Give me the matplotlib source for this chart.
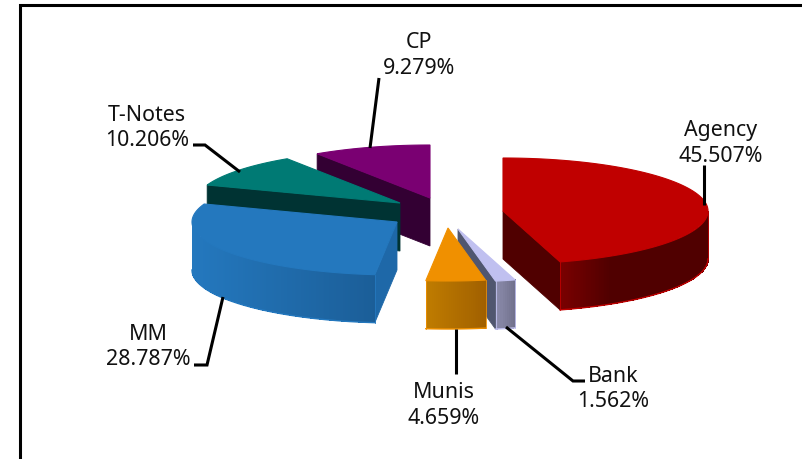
import numpy as np
import matplotlib
matplotlib.use('Agg')
import matplotlib.pyplot as plt
from matplotlib.colors import to_rgb

# values, order is clockwise from 12 o'clock
names = ['Agency', 'Bank', 'Munis', 'MM', 'T-Notes', 'CP']
shares = [45.507, 1.562, 4.659, 28.787, 10.206, 9.279]

# where the tip of each exploded slice sits (pixels)
tip_x = [503, 458, 448, 397, 400, 430]
tip_y = [211, 229, 228, 222, 203, 198]

top_colors = ['#C00000', '#C0C0F0', '#F09000', '#2478BE', '#007A74', '#7A0072']
face_colors = ['#500000', '#50566F', '#A06000', '#1E68A8', '#003333', '#330033']
wall_left = ['#7A0000', '#8C8CAC', '#C07C00', '#2478BE', '#003333', '#330033']
wall_right = ['#500000', '#70708C', '#A06000', '#1B5E98', '#003333', '#330033']
wall_fade = [3, 1, 1, 1, 1, 1]

# label centres and leader lines (pixels)
label_x = [721, 613, 444, 148, 147, 419]
label_y = [143.5, 389, 405.5, 347, 128, 55.5]
leader_x = [[704, 704], [506, 573, 585], [456, 456], [223, 207, 194], [240, 205, 193], [370, 379]]
leader_y = [[205, 165], [327, 381, 381], [329, 374], [297, 365, 365], [172, 145, 145], [148, 78]]

rx = 205
ry = 53
depth = 48

plt.rcParams['font.family'] = ['Noto Sans', 'DejaVu Sans']

fig = plt.figure(figsize=(8.03, 4.59), dpi=100)
ax = fig.add_axes([0, 0, 1, 1])
ax.set_xlim(0, 803)
ax.set_ylim(459, 0)
ax.axis('off')

# outer frame runs off the right and bottom of the picture
ax.plot([20, 20, 803], [459, 5, 5], color='k', lw=2.2, solid_joinstyle='miter', zorder=1)

bounds = np.concatenate([[0], np.cumsum(shares)]) * 3.6


def arc(i, t0, t1):
    t = np.radians(np.linspace(t0, t1, max(int(abs(t1 - t0)) * 2, 2)))
    return tip_x[i] + rx * np.sin(t), tip_y[i] - ry * np.cos(t)


def draw_slice(i, z):
    t0, t1 = bounds[i], bounds[i + 1]
    # cut faces that look towards the viewer
    for t in (t0, t1):
        show = np.sin(np.radians(t)) < 0 if t == t0 else np.sin(np.radians(t)) > 0
        if show:
            px, py = arc(i, t, t)
            xs = [tip_x[i], px[0], px[0], tip_x[i]]
            ys = [tip_y[i], py[0], py[0] + depth, tip_y[i] + depth]
            ax.fill(xs, ys, color=face_colors[i], lw=0.6, zorder=z)
    # curved wall, only the front half of the ellipse, shaded in strips
    a0, a1 = max(t0, 90), min(t1, 270)
    if a1 > a0:
        px, py = arc(i, a0, a1)
        c_l, c_r = np.array(to_rgb(wall_left[i])), np.array(to_rgb(wall_right[i]))
        left, right = px.min(), px.max()
        for k in range(len(px) - 1):
            f = (0.5 * (px[k] + px[k + 1]) - left) / (right - left)
            f = np.clip(f * wall_fade[i], 0, 1)
            col = c_l + (c_r - c_l) * f
            ax.fill([px[k], px[k + 1] + 0.5, px[k + 1] + 0.5, px[k]],
                    [py[k], py[k + 1], py[k + 1] + depth, py[k] + depth],
                    color=col, lw=0, antialiased=False, zorder=z)
        ax.plot(px, py + depth, color=top_colors[i], lw=1.0, zorder=z)
        ax.plot([px[0], px[0]], [py[0], py[0] + depth], color=top_colors[i], lw=0.6, zorder=z)
        ax.plot([px[-1], px[-1]], [py[-1], py[-1] + depth], color=top_colors[i], lw=0.6, zorder=z)
    # top surface
    px, py = arc(i, t0, t1)
    ax.fill(np.r_[tip_x[i], px], np.r_[tip_y[i], py], color=top_colors[i], lw=0.8, zorder=z)


# back to front
for z, i in enumerate([5, 4, 3, 0, 1, 2]):
    draw_slice(i, 2 + z)

for i in range(len(names)):
    ax.plot(leader_x[i], leader_y[i], color='k', lw=2.2, solid_capstyle='butt',
            solid_joinstyle='miter', zorder=10)
    ax.text(label_x[i], label_y[i], '%s\n%.3f%%' % (names[i], shares[i]), ha='center', va='center',
            fontsize=15.4, color='#111111', linespacing=1.27, zorder=11)

fig.savefig('out.png', dpi=100)
